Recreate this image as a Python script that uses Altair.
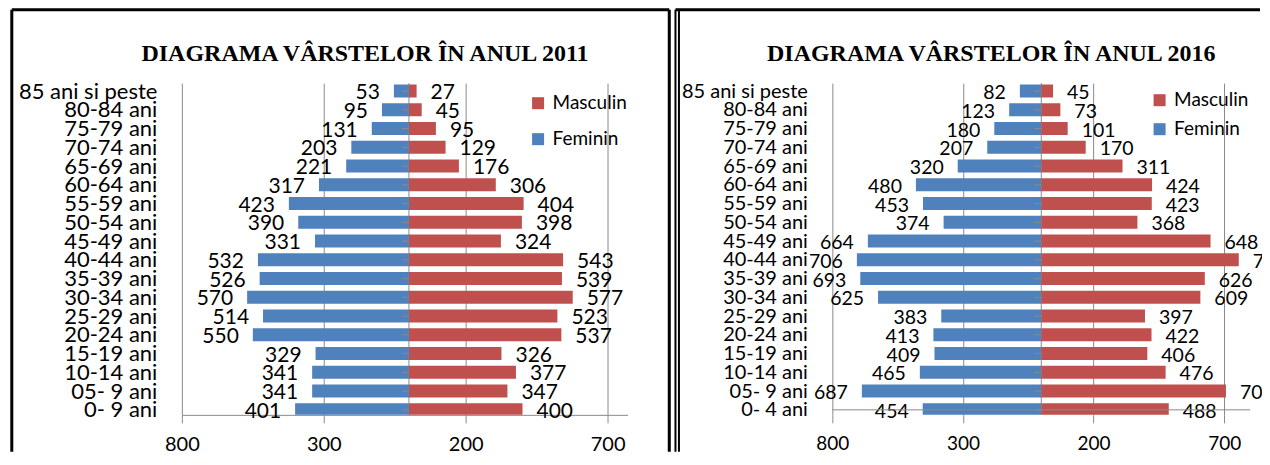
import json
import altair as alt
import pandas as pd

categories_2011 = ["85 ani si peste", "80-84 ani", "75-79 ani", "70-74 ani", "65-69 ani",
                   "60-64 ani", "55-59 ani", "50-54 ani", "45-49 ani", "40-44 ani",
                   "35-39 ani", "30-34 ani", "25-29 ani", "20-24 ani", "15-19 ani",
                   "10-14 ani", "05- 9 ani", "0- 9 ani"]
categories_2016 = ["85 ani si peste", "80-84 ani", "75-79 ani", "70-74 ani", "65-69 ani",
                   "60-64 ani", "55-59 ani", "50-54 ani", "45-49 ani", "40-44 ani",
                   "35-39 ani", "30-34 ani", "25-29 ani", "20-24 ani", "15-19 ani",
                   "10-14 ani", "05- 9 ani", "0- 4 ani"]
feminin_2011 = [53, 95, 131, 203, 221, 317, 423, 390, 331, 532, 526, 570, 514, 550, 329, 341, 341, 401]
masculin_2011 = [27, 45, 95, 129, 176, 306, 404, 398, 324, 543, 539, 577, 523, 537, 326, 377, 347, 400]
feminin_2016 = [82, 123, 180, 207, 320, 480, 453, 374, 664, 706, 693, 625, 383, 413, 409, 465, 687, 454]
masculin_2016 = [45, 73, 101, 170, 311, 424, 423, 368, 648, 756, 626, 609, 397, 422, 406, 476, 707, 488]
x_ticks = [-800, -300, 200, 700]
series = ["Masculin", "Feminin"]
titles = ["DIAGRAMA VÂRSTELOR ÎN ANUL 2011", "DIAGRAMA VÂRSTELOR ÎN ANUL 2016"]

RED = "#C0504D"
BLUE = "#4F81BD"
GRID = "#8a8a8a"
FONT = "Lato"
LEG_FS = 19
H = 332


def panel(cats, fem, masc, title, xmax, width, own_axis_line, leg_x, leg_y, leg_pad,
          title_x, frame_layers, cat_fs, val_fs, xl_fs):
    n = len(cats)
    rows = []
    for i, c in enumerate(cats):
        idx = n - 1 - i
        rows.append({"idx": idx, "cat": c, "sex": "Feminin", "value": fem[i], "signed": -fem[i]})
        rows.append({"idx": idx, "cat": c, "sex": "Masculin", "value": masc[i], "signed": masc[i]})
    df = pd.DataFrame(rows)
    label_expr = json.dumps(cats[::-1], ensure_ascii=False) + "[datum.value]"
    xs = alt.Scale(domain=[-800, xmax], nice=False, zero=False)
    ys = alt.Scale(domain=[0, 17.16], nice=False, zero=False)
    xaxis = alt.Axis(values=x_ticks, labelExpr="abs(datum.value)", grid=True, gridColor=GRID,
                     domain=not own_axis_line, domainColor=GRID, ticks=True, tickColor=GRID,
                     tickSize=8, labelFont=FONT, labelFontSize=xl_fs, labelColor="black",
                     labelPadding=12, labelFlush=False, labelOverlap=False, title=None)
    yaxis = alt.Axis(values=list(range(n)), labelExpr=label_expr, grid=False, domain=False,
                     ticks=False, labelFont=FONT, labelFontSize=cat_fs, labelColor="black",
                     labelPadding=25, labelAlign="right", labelBaseline="middle",
                     labelOverlap=False, labelFlush=False, labelBound=False, title=None)
    base = alt.Chart(df)
    zero_line = alt.Chart(pd.DataFrame({"z": [0]})).mark_rule(color=GRID).encode(
        x=alt.X("z:Q", scale=xs, axis=xaxis))
    bars = base.mark_bar(orient="horizontal", size=13, clip=True).encode(
        x=alt.X("signed:Q", scale=xs, axis=xaxis, stack=None),
        x2=alt.datum(0),
        y=alt.Y("idx:Q", scale=ys, axis=yaxis),
        color=alt.Color("sex:N", scale=alt.Scale(domain=series, range=[RED, BLUE]),
                        legend=alt.Legend(orient="none", legendX=leg_x, legendY=leg_y,
                                          title=None, symbolType="square", symbolSize=144,
                                          symbolStrokeWidth=0, labelFont=FONT,
                                          labelFontSize=LEG_FS, labelColor="black",
                                          labelOffset=5, rowPadding=leg_pad, padding=0)),
    )
    cat_ticks = alt.Chart(pd.DataFrame({"idx": list(range(n))})).mark_rule(
        color=GRID, xOffset=-7).encode(x=alt.X(datum=0, scale=xs, axis=xaxis), x2=alt.datum(0),
                                       y=alt.Y("idx:Q", scale=ys, axis=yaxis))
    inner = "datum.idx > 0 && datum.idx < %d" % (n - 1)
    outer = "datum.idx == 0 || datum.idx == %d" % (n - 1)
    layers = [zero_line, bars, cat_ticks]
    text_specs = [("Feminin", "right", -14, "true", False),
                  ("Masculin", "left", 14, inner, True),
                  ("Masculin", "left", 14, outer, False)]
    for sex, align, dx, filt, clip in text_specs:
        layers.append(base.transform_filter("datum.sex == '%s'" % sex).transform_filter(filt)
                      .mark_text(align=align, baseline="middle", dx=dx, dy=2, font=FONT,
                                 fontSize=val_fs, color="black", clip=clip)
                      .encode(x=alt.X("signed:Q", scale=xs, axis=xaxis),
                              y=alt.Y("idx:Q", scale=ys, axis=yaxis), text="value:Q"))
    layers.append(alt.Chart(pd.DataFrame({"t": [title]})).mark_text(
        align="center", baseline="alphabetic", font="Liberation Serif", fontSize=24,
        fontWeight="bold", color="black").encode(
        text="t:N", x=alt.value(title_x), y=alt.value(-22)))
    if own_axis_line:
        layers.append(alt.Chart(pd.DataFrame({"a": [0]})).mark_rule(color=GRID).encode(
            x=alt.X(datum=-800, scale=xs, axis=xaxis), x2=alt.datum(800),
            y=alt.Y(datum=0, scale=ys, axis=yaxis)))
    layers += frame_layers
    return alt.layer(*layers).properties(width=width, height=H)


def vline(x, y1, y2, w):
    return alt.Chart(pd.DataFrame({"a": [0]})).mark_rule(color="black", strokeWidth=w).encode(
        x=alt.value(x), y=alt.value(y1), y2=alt.value(y2))


def hline(x1, x2, y, w):
    return alt.Chart(pd.DataFrame({"a": [0]})).mark_rule(color="black", strokeWidth=w).encode(
        x=alt.value(x1), x2=alt.value(x2), y=alt.value(y))


TOP = -73.4
BOT = 369
left_frame = [hline(-170.2, 487.8, TOP, 3), vline(-170.2, TOP, BOT, 3), vline(487.8, TOP, BOT, 3)]
right_frame = [hline(-157, 428, TOP, 3), vline(-157, TOP, BOT, 2), vline(-153.5, TOP, BOT, 2)]

left = panel(categories_2011, feminin_2011, masculin_2011, titles[0], 770, 446, False,
             347, 10.6, 16, 183.3, left_frame, 22, 21, 20)
right = panel(categories_2016, feminin_2016, masculin_2016, titles[1], 845, 430, True,
              318, 7.6, 9, 159, right_frame, 20, 19.5, 19)

chart = alt.hconcat(left, right, spacing=2).resolve_scale(
    x="independent", y="independent", color="independent").resolve_legend(
    color="independent").properties(
    padding={"left": 2, "top": 0, "right": 0, "bottom": 0}).configure_view(stroke=None)

chart.save("out.html", embed_options={"renderer": "svg", "actions": False})
